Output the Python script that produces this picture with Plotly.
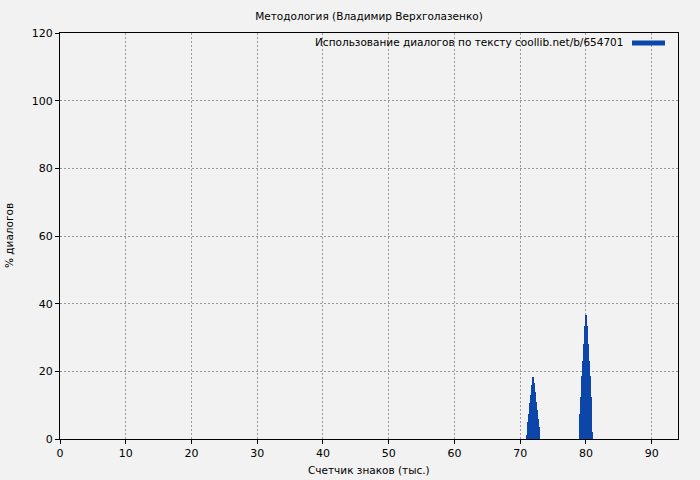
import plotly.graph_objects as go

# Data
x_cluster1 = [70.97, 71.11, 71.25, 71.39, 71.53, 71.67, 71.81, 71.95, 72.09, 72.23, 72.37, 72.51, 72.65, 72.79, 72.93]
y_cluster1 = [1.3, 3.0, 5.0, 7.5, 10.5, 13.0, 16.0, 18.3, 16.5, 14.0, 11.0, 8.5, 6.0, 3.5, 1.5]
x_cluster2 = [79.02, 79.16, 79.30, 79.44, 79.58, 79.72, 79.86, 80.00, 80.14, 80.28, 80.42, 80.56, 80.70, 80.84, 80.98]
y_cluster2 = [2.2, 7.4, 12.5, 18.5, 23.0, 28.0, 33.4, 36.6, 33.4, 28.0, 23.0, 18.5, 12.5, 7.4, 2.2]
bar_width = 0.14

x_ticks = [0, 10, 20, 30, 40, 50, 60, 70, 80, 90]
y_ticks = [0, 20, 40, 60, 80, 100, 120]

title_text = "Методология (Владимир Верхголазенко)"
legend_text = "Использование диалогов по тексту coollib.net/b/654701"
x_title = "Счетчик знаков (тыс.)"
y_title = "% диалогов"

bar_color = "#0b46a8"
bg = "#f2f2f2"
font_family = "DejaVu Sans"

L, R, T, B = 60, 22, 33, 41
PW, PH = 700 - L - R, 480 - T - B

fig = go.Figure()
fig.add_trace(go.Bar(
    x=x_cluster1 + x_cluster2,
    y=y_cluster1 + y_cluster2,
    width=bar_width,
    marker=dict(color=bar_color, line=dict(width=0)),
    name=legend_text,
    showlegend=False,
    hoverinfo="skip",
))

axis_common = dict(
    ticks="outside", ticklen=4, tickcolor="#000000",
    showline=True, linecolor="#000000", linewidth=1, mirror=True,
    showgrid=True, gridcolor="#999999", griddash="2px,2px", gridwidth=1,
    zeroline=False, automargin=False,
    tickfont=dict(size=11),
)

fig.update_layout(
    width=700, height=480,
    paper_bgcolor=bg, plot_bgcolor=bg,
    margin=dict(l=L, r=R, t=T, b=B, autoexpand=False),
    font=dict(family=font_family, size=11, color="#000000"),
    bargap=0,
    title=dict(text=title_text, x=(L + 700 - R) / 2 / 700, xanchor="center",
               y=1 - 16 / 480, yanchor="middle", yref="container",
               font=dict(size=10.5, family=font_family)),
    xaxis=dict(range=[0, 94], tickvals=x_ticks, **axis_common),
    yaxis=dict(range=[0, 120], tickvals=y_ticks, **axis_common),
)

# Axis titles placed as annotations
fig.add_annotation(
    text=x_title, xref="paper", yref="paper",
    x=0.5, y=-(470 - (480 - B)) / PH, xanchor="center", yanchor="middle",
    showarrow=False, font=dict(size=10.5),
)
fig.add_annotation(
    text=y_title, xref="paper", yref="paper",
    x=(9 - L) / PW, y=1 - (236 - T) / PH, xanchor="center", yanchor="middle",
    textangle=-90, showarrow=False, font=dict(size=10.5),
)

# Legend mimic: text with line sample on the right
fig.add_annotation(
    text=legend_text, xref="paper", yref="paper",
    x=(625 - L) / PW, y=1 - (42 - T) / PH, xanchor="right", yanchor="middle",
    showarrow=False, font=dict(size=10.5, family=font_family),
)
fig.add_shape(
    type="line", xref="paper", yref="paper",
    x0=(632 - L) / PW, x1=(665 - L) / PW,
    y0=1 - (43 - T) / PH, y1=1 - (43 - T) / PH,
    line=dict(color=bar_color, width=5),
)

fig.write_html(
    "out.html",
    config={"displayModeBar": False},
    post_script="document.body.style.margin='0px';document.body.style.overflow='hidden';",
)
